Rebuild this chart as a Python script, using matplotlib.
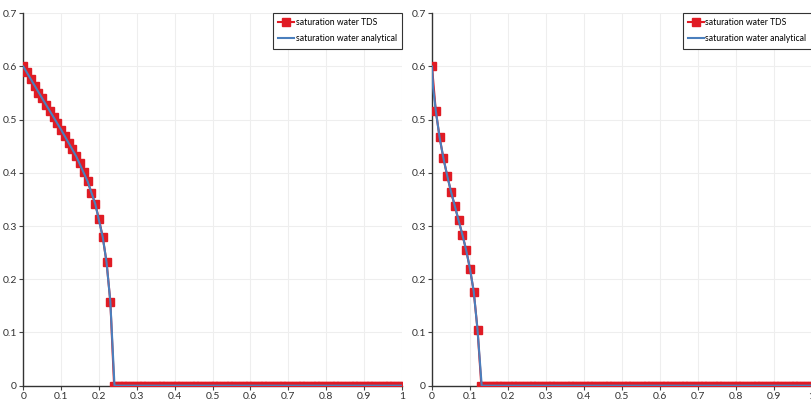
import numpy as np
import matplotlib.pyplot as plt

plt.rcParams['font.family'] = ['Lato', 'DejaVu Sans']

# left case: TDS cell values (x step 0.01) and analytical profile
left_x_tds = np.round(np.arange(0, 1.0001, 0.01), 2)
left_front = [0.600, 0.589, 0.576, 0.563, 0.551, 0.540, 0.528, 0.516, 0.505, 0.493,
              0.481, 0.469, 0.456, 0.444, 0.431, 0.418, 0.401, 0.384, 0.363, 0.342,
              0.313, 0.279, 0.232, 0.158]
left_y_tds = left_front + [0.0] * (len(left_x_tds) - len(left_front))
left_x_ana = [0, 0.05, 0.10, 0.14, 0.17, 0.19, 0.21, 0.22, 0.23, 0.241, 1.0]
left_y_ana = [0.6, 0.540, 0.481, 0.431, 0.384, 0.342, 0.279, 0.232, 0.158, 0.0, 0.0]

# right case
right_x_tds = np.round(np.arange(0, 1.0001, 0.01), 2)
right_front = [0.600, 0.517, 0.467, 0.428, 0.395, 0.365, 0.338, 0.311, 0.284, 0.255,
               0.220, 0.177, 0.105]
right_y_tds = right_front + [0.0] * (len(right_x_tds) - len(right_front))
right_x_ana = [0, 0.003, 0.01, 0.02, 0.03, 0.04, 0.05, 0.06, 0.07, 0.08, 0.09,
               0.10, 0.11, 0.12, 0.131, 1.0]
right_y_ana = [0.6, 0.56, 0.517, 0.467, 0.428, 0.395, 0.365, 0.338, 0.311, 0.284,
               0.255, 0.220, 0.177, 0.105, 0.0, 0.0]

xticks = [0, 0.1, 0.2, 0.3, 0.4, 0.5, 0.6, 0.7, 0.8, 0.9, 1]
xlabels = ['0', '0.1', '0.2', '0.3', '0.4', '0.5', '0.6', '0.7', '0.8', '0.9', '1']
yticks = [0, 0.1, 0.2, 0.3, 0.4, 0.5, 0.6, 0.7]
ylabels = ['0', '0.1', '0.2', '0.3', '0.4', '0.5', '0.6', '0.7']

red = '#e01b24'
blue = '#4a7fbd'

fig = plt.figure(figsize=(8.12, 4.03), dpi=100)
ax1 = fig.add_axes([0.0287, 0.043, 0.466, 0.924])
ax2 = fig.add_axes([0.532, 0.043, 0.4675, 0.924])

cases = [(ax1, left_x_tds, left_y_tds, left_x_ana, left_y_ana),
         (ax2, right_x_tds, right_y_tds, right_x_ana, right_y_ana)]

for ax, xt, yt, xa, ya in cases:
    ax.plot(xt, yt, color=red, lw=1.5, marker='s', ms=5.5, mec=red, mfc=red,
            label='saturation water TDS', zorder=3)
    ax.plot(xa, ya, color=blue, lw=1.5, label='saturation water analytical', zorder=4)
    ax.set_xlim(0, 1)
    ax.set_ylim(0, 0.7)
    ax.set_xticks(xticks)
    ax.set_xticklabels(xlabels)
    ax.set_yticks(yticks)
    ax.set_yticklabels(ylabels)
    ax.tick_params(labelsize=7.5, length=3, width=0.8, color='#444444',
                   labelcolor='#333333', pad=1.5)
    ax.grid(True, color='#eeeeee', lw=0.8)
    for s in ['top', 'right']:
        ax.spines[s].set_visible(False)
    for s in ['left', 'bottom']:
        ax.spines[s].set_color('#333333')
        ax.spines[s].set_linewidth(1.0)
    leg = ax.legend(loc='upper right', fontsize=6.2, fancybox=False, framealpha=1,
                    borderaxespad=0, handlelength=1.8, handletextpad=0.2,
                    borderpad=0.6, labelspacing=0.8)
    leg.get_frame().set_edgecolor('#333333')
    leg.get_frame().set_linewidth(0.8)

fig.savefig('out.png', dpi=100)
